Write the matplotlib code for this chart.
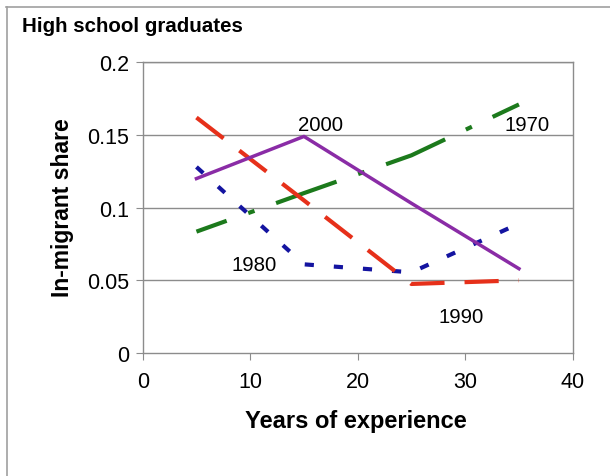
import matplotlib
matplotlib.use("Agg")
import matplotlib.pyplot as plt
from matplotlib.lines import Line2D

plt.rcParams['font.family'] = ['Liberation Sans', 'DejaVu Sans']

# experience (years) and in-migrant share per cohort
experience = [5, 15, 25, 35]
share_1970 = [0.0835, 0.110, 0.136, 0.171]
share_1980 = [0.128, 0.061, 0.0555, 0.089]
share_1990 = [0.162, 0.105, 0.0475, 0.050]
share_2000 = [0.120, 0.149, 0.103, 0.058]

x_ticks = [0, 10, 20, 30, 40]
y_ticks = [0, 0.05, 0.1, 0.15, 0.2]
y_tick_labels = ["0", "0.05", "0.1", "0.15", "0.2"]

fig = plt.figure(figsize=(6.1, 4.77), dpi=100)
ax = fig.add_axes([142.7 / 610, 1 - 354 / 477, 430 / 610, 290.7 / 477])

# outer border of the original graphic
fig.add_artist(Line2D([6 / 610, 1], [1 - 7.5 / 477, 1 - 7.5 / 477], color='#a0a0a0', lw=1.2))
fig.add_artist(Line2D([7 / 610, 7 / 610], [0, 1 - 7.5 / 477], color='#a0a0a0', lw=1.2))

for y in y_ticks[1:]:
    ax.axhline(y, color='#8c8c8c', lw=1.0, zorder=1)

ax.plot(experience, share_1970, color='#1c7a1c', lw=3,
        linestyle=(7.7, (15.4, 5.5, 1.6, 5.5)), zorder=3)
ax.plot(experience, share_1980, color='#1414a0', lw=3, dashes=(2.2, 4.8), zorder=3)
ax.plot(experience, share_1990, color='#e6301a', lw=3, dashes=(8.2, 4.8), zorder=3)
ax.plot(experience, share_2000, color='#8a2ca6', lw=2.5, zorder=3)

ax.text(16.5, 0.1572, "2000", ha='center', va='center', fontsize=14.7)
ax.text(35.75, 0.1572, "1970", ha='center', va='center', fontsize=14.7)
ax.text(10.35, 0.0612, "1980", ha='center', va='center', fontsize=14.7)
ax.text(29.6, 0.0252, "1990", ha='center', va='center', fontsize=14.7)

ax.set_xlim(0, 40)
ax.set_ylim(0, 0.2)
ax.set_xticks(x_ticks)
ax.set_yticks(y_ticks)
ax.set_yticklabels(y_tick_labels)
ax.tick_params(direction='out', length=5, color='#8c8c8c', labelsize=15.5)
ax.tick_params(axis='x', pad=8)
ax.tick_params(axis='y', pad=5)
for s in ax.spines.values():
    s.set_color('#8c8c8c')
    s.set_linewidth(1.0)

ax.set_xlabel("Years of experience", fontsize=17, fontweight='bold', va='top')
ax.xaxis.set_label_coords(0.496, -0.192)
ax.set_ylabel("In-migrant share", fontsize=16.5, fontweight='bold')
ax.yaxis.set_label_coords(-0.160, 0.502)
fig.text(22 / 610, 1 - 32.5 / 477, "High school graduates", fontsize=14.8, fontweight='bold',
         ha='left', va='baseline')

plt.savefig("out.png", dpi=100)
